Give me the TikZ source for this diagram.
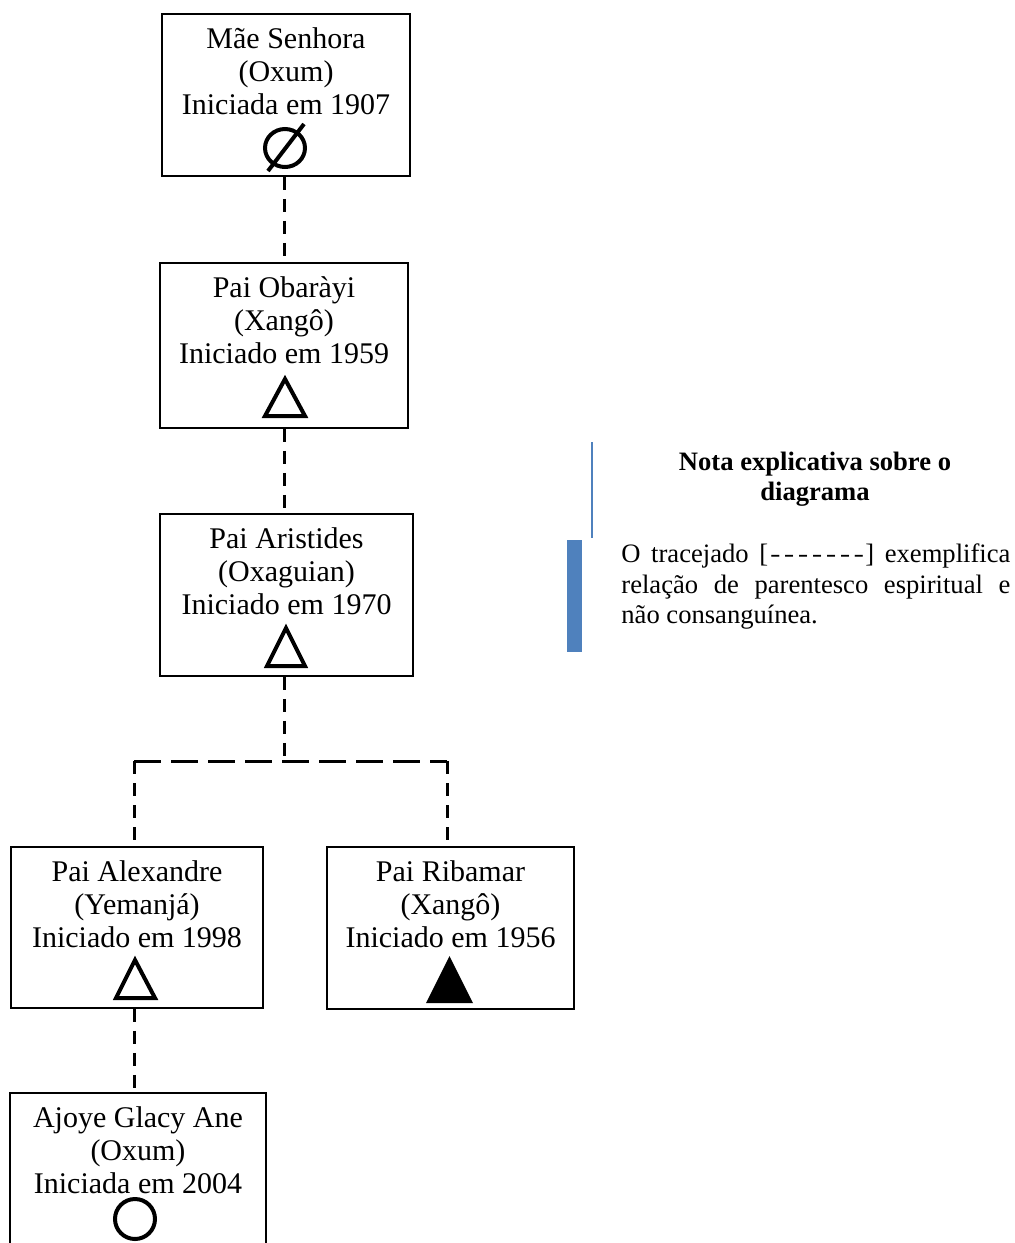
\documentclass[tikz,border=0pt]{standalone}
\usepackage{fontspec}
\setmainfont{Liberation Serif}
\newfontfamily\dashfont[FakeStretch=1.25]{Liberation Mono}
\usetikzlibrary{calc,fit}

\definecolor{noteblue}{HTML}{4F81BD}

% three centred lines of text inside a kinship box
\newcommand\boxtext[4]{%
  \node[lbl] (#1-l1) at ($(#1.north)+(0,35)$) {#2};
  \node[lbl] (#1-l2) at ($(#1.north)+(0,68)$) {#3};
  \node[lbl] (#1-l3) at ($(#1.north)+(0,101)$) {#4};}
% one dash of the bracketed dashed sample
\newcommand\hy{-\kern-1.8pt}

\begin{document}
\begin{tikzpicture}[x=0.5pt,y=-0.5pt,
  kbox/.style={draw=black, line width=0.75pt, inner sep=0pt, fill=white},
  lbl/.style={anchor=base, inner sep=0pt, font=\fontsize{15pt}{16.5pt}\selectfont},
  vlink/.style={line width=1.5pt, dash pattern=on 6.5pt off 4.5pt},
  hlink/.style={line width=1.5pt, dash pattern=on 13.5pt off 5pt},
  sym/.style={line width=2pt},
  notetitle/.style={anchor=base, inner sep=0pt, font=\fontsize{13.3pt}{15.5pt}\selectfont\bfseries},
  notebody/.style={anchor=base west, inner sep=0pt, font=\fontsize{13.3pt}{15.5pt}\selectfont}]

\useasboundingbox (0,0) rectangle (1015,1243);
\clip (0,0) rectangle (1015,1243);
\fill[white] (0,0) rectangle (1015,1243);

% junction points of the dashed lineage lines
\coordinate (j)  at (284,761);
\coordinate (jl) at (134,761);
\coordinate (jr) at (447,761);

% boxes
\node[kbox, fit={(162,14) (410,176)}]    (b1) {};
\node[kbox, fit={(160,263) (408,428)}]   (b2) {};
\node[kbox, fit={(160,514) (413,676)}]   (b3) {};
\node[kbox, fit={(11,847) (263,1008)}]   (b4) {};
\node[kbox, fit={(327,847) (574,1009)}]  (b5) {};
\node[kbox, fit={(10,1093) (266,1262)}]  (b6) {};

% dashed lineage connectors
\draw[vlink] (b1.south -| j) -- (b2.north -| j);
\draw[vlink] (b2.south -| j) -- (b3.north -| j);
\draw[vlink] (b3.south -| j) -- (j);
\draw[hlink] (jl) -- (jr);
\draw[vlink] (jl) -- (b4.north -| jl);
\draw[vlink] (jr) -- (b5.north -| jr);
\draw[vlink] (b4.south -| jl) -- (b6.north -| jl);

% texts
\boxtext{b1}{Mãe Senhora}{(Oxum)}{Iniciada em 1907}
\boxtext{b2}{Pai Obaràyi}{(Xangô)}{Iniciado em 1959}
\boxtext{b3}{Pai Aristides}{(Oxaguian)}{Iniciado em 1970}
\boxtext{b4}{Pai Alexandre}{(Yemanjá)}{Iniciado em 1998}
\boxtext{b5}{Pai Ribamar}{(Xangô)}{Iniciado em 1956}
\boxtext{b6}{Ajoye Glacy Ane}{(Oxum)}{Iniciada em 2004}

% symbols
\draw[sym] (285,148) ellipse [x radius=20, y radius=19];
\draw[sym] (268,171) -- (304,124);
\draw[sym] (265,416) -- (285,379) -- (305,416) -- cycle;
\draw[sym] (267,666) -- (286,628) -- (305,666) -- cycle;
\draw[sym] (116,998) -- (135,960) -- (155,998) -- cycle;
\fill (426,1003) -- (449.5,956) -- (473,1003) -- cycle;
\draw[sym] (135,1219) circle [radius=20];

% explanatory note
\draw[noteblue, line width=0.8pt] (592,442) -- (592,538);
\fill[noteblue] (567,540) rectangle (582,652);
\node[notetitle] (nt1) at (815,470) {Nota explicativa sobre o};
\node[notetitle] (nt2) at (815,500) {diagrama};
\node[notebody] (nb1) at (621,562) {\makebox[194.5pt][s]{O tracejado [{\dashfont\fontsize{11.7pt}{14pt}\selectfont\kern-0.8pt\hy\hy\hy\hy\hy\hy-\kern-1.2pt}] exemplifica}};
\node[notebody] (nb2) at (621,593) {\makebox[194.5pt][s]{relação de parentesco espiritual e}};
\node[notebody] (nb3) at (621,623) {não consanguínea.};
\end{tikzpicture}
\end{document}
